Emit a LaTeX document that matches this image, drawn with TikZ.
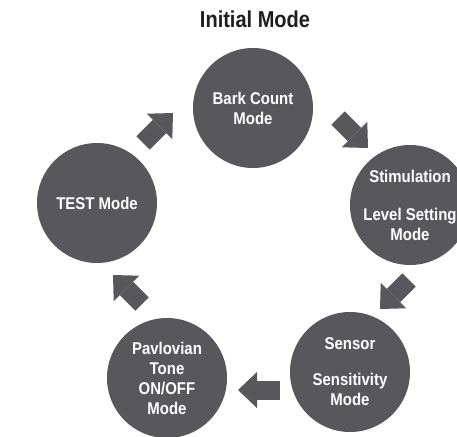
\documentclass[tikz,border=0pt]{standalone}
\usepackage{fontspec}
\setmainfont{Liberation Sans}
\newfontfamily\modefont[FakeStretch=0.88]{Liberation Sans}
\newfontfamily\titlefont[FakeStretch=0.87]{Liberation Sans}
\usetikzlibrary{arrows.meta}
\definecolor{modegray}{RGB}{88,87,92}
\definecolor{titleblack}{RGB}{30,30,32}

\begin{document}
\begin{tikzpicture}[x=1pt, y=-1pt,
  mode/.style={circle, fill=modegray, minimum size=120pt, inner sep=0pt,
    text=white, align=center, font=\modefont\bfseries\fontsize{17}{20}\selectfont},
  flow/.style={draw=modegray, line width=19pt,
    -{Triangle[width=36pt,length=19pt,line width=0pt]}}]
\useasboundingbox (0,0) rectangle (457,436);

\node[font=\titlefont\bfseries\fontsize{23}{26}\selectfont, text=titleblack] (title) at (255,19) {Initial Mode};

\node[mode] (bark) at (253,108) {Bark Count\\Mode};
\node[mode] (stim) at (410,205) {Stimulation\\[18pt]Level Setting\\Mode};
\node[mode] (sens) at (350,372) {Sensor\\[16pt]Sensitivity\\Mode};
\node[mode] (pav) at (167,378) {Pavlovian\\Tone\\ON/OFF\\Mode};
\node[mode] (test) at (97,203) {TEST Mode};

\coordinate (t1) at (143,143);
\coordinate (h1) at (173,113);
\coordinate (t2) at (338,118);
\coordinate (h2) at (368,148);
\coordinate (t3) at (409,280);
\coordinate (h3) at (380,309);
\coordinate (t4) at (280,390);
\coordinate (h4) at (238,390);
\coordinate (t5) at (142,304);
\coordinate (h5) at (113,275);

\draw[flow] (t1) -- (h1);
\draw[flow] (t2) -- (h2);
\draw[flow] (t3) -- (h3);
\draw[flow] (t4) -- (h4);
\draw[flow] (t5) -- (h5);
\end{tikzpicture}
\end{document}
